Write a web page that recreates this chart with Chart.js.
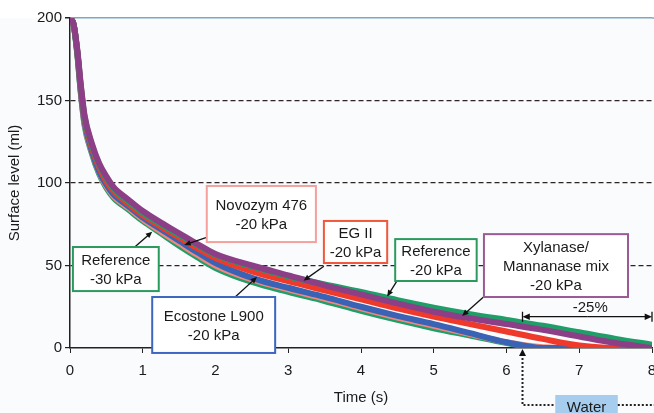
<!DOCTYPE html>
<html lang="en">
<head>
<meta charset="UTF-8">
<title>Surface level vs time</title>
<script src="https://cdn.jsdelivr.net/npm/chart.js"></script>
<style>
  html, body { margin: 0; padding: 0; background: #ffffff; overflow: hidden; }
  #wrap { width: 670px; height: 413px; }
</style>
</head>
<body>
<div id="wrap"><canvas id="chart" width="670" height="413"></canvas></div>
<script>
// time axis (s) shared by all curves
const times = [0, 0.05, 0.1, 0.15, 0.2, 0.3, 0.4, 0.5, 0.6, 0.8, 1.0, 1.25, 1.5, 1.75, 2.0, 2.5, 3.0, 3.5, 4.0, 4.5, 5.0, 5.5, 6.0, 6.5, 7.0, 7.5, 8.0];

// surface level (ml)
const xylanase = [200, 196, 181, 159, 141, 124, 112, 104, 97.5, 90, 83, 76, 69.5, 63, 57, 50, 44, 38, 32.5, 27, 22, 18, 14.5, 11, 7, 3, 0];
const ref20    = [200, 196, 180, 158, 140, 123, 111, 103, 96.5, 89, 82, 75, 68.5, 62.5, 56.5, 49.5, 43.5, 38.5, 34, 29, 24.5, 20.5, 17, 13.5, 9.5, 5.5, 2];
const egII     = [200, 196, 180, 157, 139, 121.5, 109.5, 101, 95, 87.5, 80.5, 73.5, 67, 60.5, 54.5, 46.5, 40.5, 35, 29.5, 24, 19, 14.5, 10, 5.5, 1.5, 0, 0];
const ecostone = [200, 196, 179, 155, 137, 119.5, 107, 99, 93, 86, 79, 72, 65, 58, 51.5, 42.5, 36.5, 31, 25, 19.5, 14.5, 9, 3.5, 0, 0, 0, 0];
const novozym  = [200, 196, 179, 154.5, 136, 119, 106.5, 98, 92, 85, 78, 70.5, 63.5, 56.5, 50, 41.5, 35.5, 30, 24, 18.5, 13.5, 8.5, 3.5, 0.5, 0, 0, 0];
const ref30    = [200, 196, 178, 154, 135, 118, 105.5, 97, 91, 84, 77, 69.5, 62, 55, 48.5, 40, 34, 28.5, 22.5, 17, 12, 7.5, 3, 0, 0, 0, 0];

const xTickValues = [0, 1, 2, 3, 4, 5, 6, 7, 8];
const yTickValues = [0, 50, 100, 150, 200];

const FONT = '"Liberation Sans", Arial, sans-serif';
const GREEN = '#1f9e68';

function pts(values) {
  return times.map((t, i) => ({ x: t, y: values[i] }));
}

// labels on the plot (data units), arrow goes from -> to
const callouts = [
  { lines: ['Novozym 476', '-20 kPa'], color: '#f4a09c', box: [1.88, 3.38, 98.2, 64.2], from: [1.9, 67.3], to: [1.57, 62.5] },
  { lines: ['Reference', '-30 kPa'], color: '#2a9a5e', box: [0.04, 1.22, 61.2, 34.5], from: [0.89, 61.2], to: [1.13, 70.5] },
  { lines: ['EG II', '-20 kPa'], color: '#f0583c', box: [3.49, 4.36, 77, 51.5], from: [3.49, 49.5], to: [3.21, 40.8] },
  { lines: ['Reference', '-20 kPa'], color: '#2a9a5e', box: [4.47, 5.59, 66, 40.6], from: [4.49, 40.4], to: [4.36, 31.2] },
  { lines: ['Xylanase/', 'Mannanase mix', '-20 kPa'], color: '#9a5a95', box: [5.69, 7.67, 69, 30.9], from: [5.68, 30.8], to: [5.39, 19.4] },
  { lines: ['Ecostone L900', '-20 kPa'], color: '#3d66c0', box: [1.13, 2.82, 30.9, -3], from: [2.27, 30.9], to: [2.57, 43] }
];
const dropStart = 6.22;
const dropLevel = 19;
const waterBox = [6.67, 7.53];

function arrowLine(ctx, x1, y1, x2, y2, head) {
  const a = Math.atan2(y2 - y1, x2 - x1);
  ctx.beginPath();
  ctx.moveTo(x1, y1);
  ctx.lineTo(x2 - head * 0.7 * Math.cos(a), y2 - head * 0.7 * Math.sin(a));
  ctx.stroke();
  ctx.beginPath();
  ctx.moveTo(x2, y2);
  ctx.lineTo(x2 - head * Math.cos(a - 0.42), y2 - head * Math.sin(a - 0.42));
  ctx.lineTo(x2 - head * Math.cos(a + 0.42), y2 - head * Math.sin(a + 0.42));
  ctx.closePath();
  ctx.fill();
}

const backdrop = {
  id: 'backdrop',
  beforeDraw(chart) {
    const { ctx, chartArea } = chart;
    ctx.save();
    ctx.fillStyle = '#ffffff';
    ctx.fillRect(0, 0, chart.width, chart.height);
    ctx.fillStyle = '#fafbfd';
    ctx.fillRect(0, chartArea.top, chart.width, chart.height - chartArea.top);
    ctx.restore();
  },
  afterDraw(chart) {
    // top line runs on to the right edge
    const { ctx, chartArea } = chart;
    ctx.save();
    ctx.strokeStyle = '#7fa8c4';
    ctx.lineWidth = 1.5;
    ctx.beginPath();
    ctx.moveTo(chartArea.right, chartArea.top);
    ctx.lineTo(chart.width, chartArea.top);
    ctx.stroke();
    ctx.restore();
  }
};

const notes = {
  id: 'notes',
  afterDraw(chart) {
    const { ctx, chartArea } = chart;
    const xs = chart.scales.x, ys = chart.scales.y;
    const px = v => xs.getPixelForValue(v);
    const py = v => ys.getPixelForValue(v);
    ctx.save();
    ctx.font = '15px ' + FONT;
    ctx.textAlign = 'center';
    ctx.textBaseline = 'middle';

    callouts.forEach(c => {
      ctx.strokeStyle = '#111';
      ctx.fillStyle = '#111';
      ctx.lineWidth = 1.3;
      arrowLine(ctx, px(c.from[0]), py(c.from[1]), px(c.to[0]), py(c.to[1]), 7);
      const x0 = px(c.box[0]), x1 = px(c.box[1]);
      const y0 = py(c.box[2]), y1 = py(c.box[3]);
      ctx.fillStyle = '#ffffff';
      ctx.fillRect(x0, y0, x1 - x0, y1 - y0);
      ctx.strokeStyle = c.color;
      ctx.lineWidth = 2;
      ctx.strokeRect(x0, y0, x1 - x0, y1 - y0);
      ctx.fillStyle = '#1a1a1a';
      const cy = (y0 + y1) / 2 + 1;
      const n = c.lines.length;
      c.lines.forEach((s, i) => {
        ctx.fillText(s, (x0 + x1) / 2, cy + (i - (n - 1) / 2) * 19);
      });
    });

    // -25% span
    const ax = px(dropStart), bx = px(xTickValues[xTickValues.length - 1]);
    const ly = py(dropLevel);
    ctx.strokeStyle = '#111';
    ctx.fillStyle = '#111';
    ctx.lineWidth = 1.3;
    arrowLine(ctx, (ax + bx) / 2, ly, ax, ly, 8);
    arrowLine(ctx, (ax + bx) / 2, ly, bx, ly, 8);
    ctx.beginPath();
    ctx.moveTo(ax, ly - 5); ctx.lineTo(ax, ly + 5);
    ctx.moveTo(bx, ly - 5); ctx.lineTo(bx, ly + 5);
    ctx.stroke();
    ctx.fillStyle = '#1a1a1a';
    ctx.fillText('-25%', (ax + bx) / 2 + 3, ly - 9);

    // water marker below axis
    const base = chartArea.bottom;
    const wy = base + 57;
    const w0 = px(waterBox[0]), w1 = px(waterBox[1]);
    ctx.fillStyle = '#a6cdee';
    ctx.fillRect(w0, base + 47, w1 - w0, 30);
    ctx.setLineDash([2, 2]);
    ctx.lineWidth = 2;
    ctx.strokeStyle = '#222';
    ctx.beginPath();
    ctx.moveTo(ax, base + 6); ctx.lineTo(ax, wy); ctx.lineTo(w0, wy);
    ctx.moveTo(w1, wy); ctx.lineTo(chart.width, wy);
    ctx.stroke();
    ctx.setLineDash([]);
    ctx.fillStyle = '#111';
    ctx.beginPath();
    ctx.moveTo(ax, base + 1);
    ctx.lineTo(ax - 3.5, base + 8);
    ctx.lineTo(ax + 3.5, base + 8);
    ctx.closePath();
    ctx.fill();
    ctx.fillStyle = '#1a1a1a';
    ctx.fillText('Water', (w0 + w1) / 2, base + 60);
    ctx.restore();
  }
};

const seriesList = [
  { label: 'Xylanase/Mannanase mix -20 kPa', data: xylanase, color: '#8c3f86', order: 0 },
  { label: 'Reference -20 kPa', data: ref20, color: GREEN, order: 1 },
  { label: 'EG II -20 kPa', data: egII, color: '#ef3a2b', order: 2 },
  { label: 'Ecostone L900 -20 kPa', data: ecostone, color: '#3b63b5', order: 3 },
  { label: 'Novozym 476 -20 kPa', data: novozym, color: '#f2877f', order: 4 },
  { label: 'Reference -30 kPa', data: ref30, color: GREEN, order: 5 }
];

new Chart(document.getElementById('chart').getContext('2d'), {
  type: 'line',
  data: {
    datasets: seriesList.map(s => ({
      label: s.label,
      data: pts(s.data),
      borderColor: s.color,
      backgroundColor: s.color,
      borderWidth: 6,
      pointRadius: 0,
      cubicInterpolationMode: 'monotone',
      order: s.order
    }))
  },
  options: {
    responsive: false,
    animation: false,
    layout: { padding: { top: 18, right: 18, left: 0, bottom: 0 } },
    plugins: { legend: { display: false }, tooltip: { enabled: false } },
    scales: {
      x: {
        type: 'linear',
        min: xTickValues[0],
        max: xTickValues[xTickValues.length - 1],
        afterFit(scale) { scale.height = 65; },
        afterBuildTicks(scale) { scale.ticks = xTickValues.map(v => ({ value: v })); },
        ticks: { color: '#1a1a1a', font: { family: FONT, size: 15 }, padding: 9, maxRotation: 0 },
        grid: { drawOnChartArea: false, drawTicks: true, tickLength: 5, tickColor: '#222' },
        border: { display: true, color: '#222', width: 1.5 },
        title: { display: true, text: 'Time (s)', color: '#1a1a1a', font: { family: FONT, size: 15 }, padding: { top: 0, bottom: 6 } }
      },
      y: {
        min: yTickValues[0],
        max: yTickValues[yTickValues.length - 1],
        afterFit(scale) { scale.width = 70; },
        afterBuildTicks(scale) { scale.ticks = yTickValues.map(v => ({ value: v })); },
        ticks: { color: '#1a1a1a', font: { family: FONT, size: 15 }, padding: 3 },
        grid: {
          color: c => (c.tick && c.tick.value === 200) ? '#7fa8c4' : (c.tick && c.tick.value === 0 ? 'rgba(0,0,0,0)' : '#2e2424'),
          lineWidth: c => (c.tick && c.tick.value === 200) ? 1.5 : 1.2,
          tickLength: 5,
          tickColor: '#222'
        },
        border: {
          display: true, color: '#222', width: 1.5,
          dash: c => (c.tick && c.tick.value === 200) ? [] : [5, 3]
        },
        title: { display: true, text: 'Surface level (ml)', color: '#1a1a1a', font: { family: FONT, size: 15 }, padding: { top: 6, bottom: 0 } }
      }
    }
  },
  plugins: [backdrop, notes]
});
</script>
</body>
</html>
